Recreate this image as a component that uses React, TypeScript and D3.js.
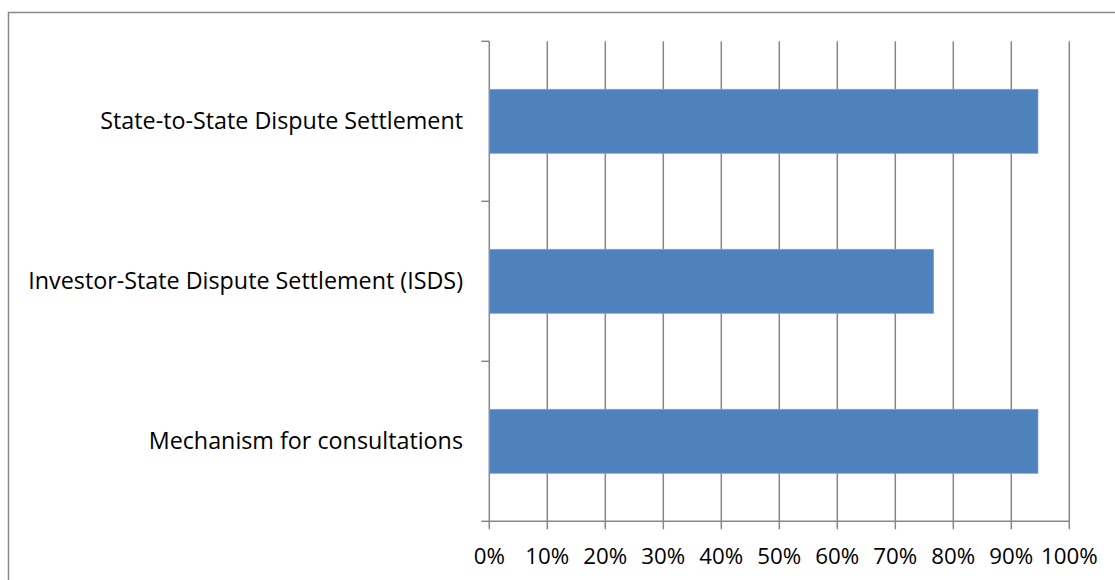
import React from "react";
import * as d3 from "d3";

const categories = [
  "State-to-State Dispute Settlement",
  "Investor-State Dispute Settlement (ISDS)",
  "Mechanism for consultations",
];
const values = [0.946, 0.766, 0.946];
const xTicks = [0, 0.1, 0.2, 0.3, 0.4, 0.5, 0.6, 0.7, 0.8, 0.9, 1.0];

const W = 1115;
const H = 580;
const left = 489.3;
const right = 1069.3;
const top = 41.3;
const bottom = 521.3;
const font = "'Open Sans', sans-serif";

export default function App() {
  const x = d3.scaleLinear().domain([0, 1]).range([left, right]);
  const y = d3
    .scaleBand<string>()
    .domain(categories)
    .range([top, bottom])
    .paddingInner(0.6)
    .paddingOuter(0.3);
  const bandStep = (bottom - top) / categories.length;
  const grid = "#878787";
  return (
    <div style={{ position: "fixed", left: 0, top: 0, width: W, height: H, background: "#fff" }}>
      <svg width={W} height={H} style={{ display: "block" }}>
        <rect x={8.5} y={12.5} width={W + 10} height={H + 10} fill="#fff" stroke="#898989" strokeWidth={1.5} />
        {xTicks.map((t) => (
          <line key={t} x1={x(t)} x2={x(t)} y1={top} y2={bottom + 8} stroke={grid} strokeWidth={1.5} />
        ))}
        <line x1={left} x2={right} y1={bottom} y2={bottom} stroke={grid} strokeWidth={1.5} />
        {d3.range(categories.length + 1).map((i) => (
          <line key={i} x1={left - 8} x2={left} y1={top + i * bandStep} y2={top + i * bandStep} stroke={grid} strokeWidth={1.5} />
        ))}
        {categories.map((c, i) => (
          <rect
            key={c}
            x={x(0)}
            y={y(c)!}
            width={x(values[i]) - x(0)}
            height={y.bandwidth()}
            fill="#4F81BD"
            stroke="#7FA2CF"
            strokeWidth={0.8}
          />
        ))}
        {categories.map((c) => (
          <text
            key={c}
            x={463}
            y={y(c)! + y.bandwidth() / 2}
            dy="0.35em"
            textAnchor="end"
            fontFamily={font}
            fontSize={23.3}
            fill="#000"
          >
            {c}
          </text>
        ))}
        {xTicks.map((t) => (
          <text
            key={t}
            x={x(t)}
            y={556}
            dy="0.35em"
            textAnchor="middle"
            fontFamily={font}
            fontSize={22.3}
            fill="#000"
          >
            {d3.format(".0%")(t)}
          </text>
        ))}
      </svg>
    </div>
  );
}
